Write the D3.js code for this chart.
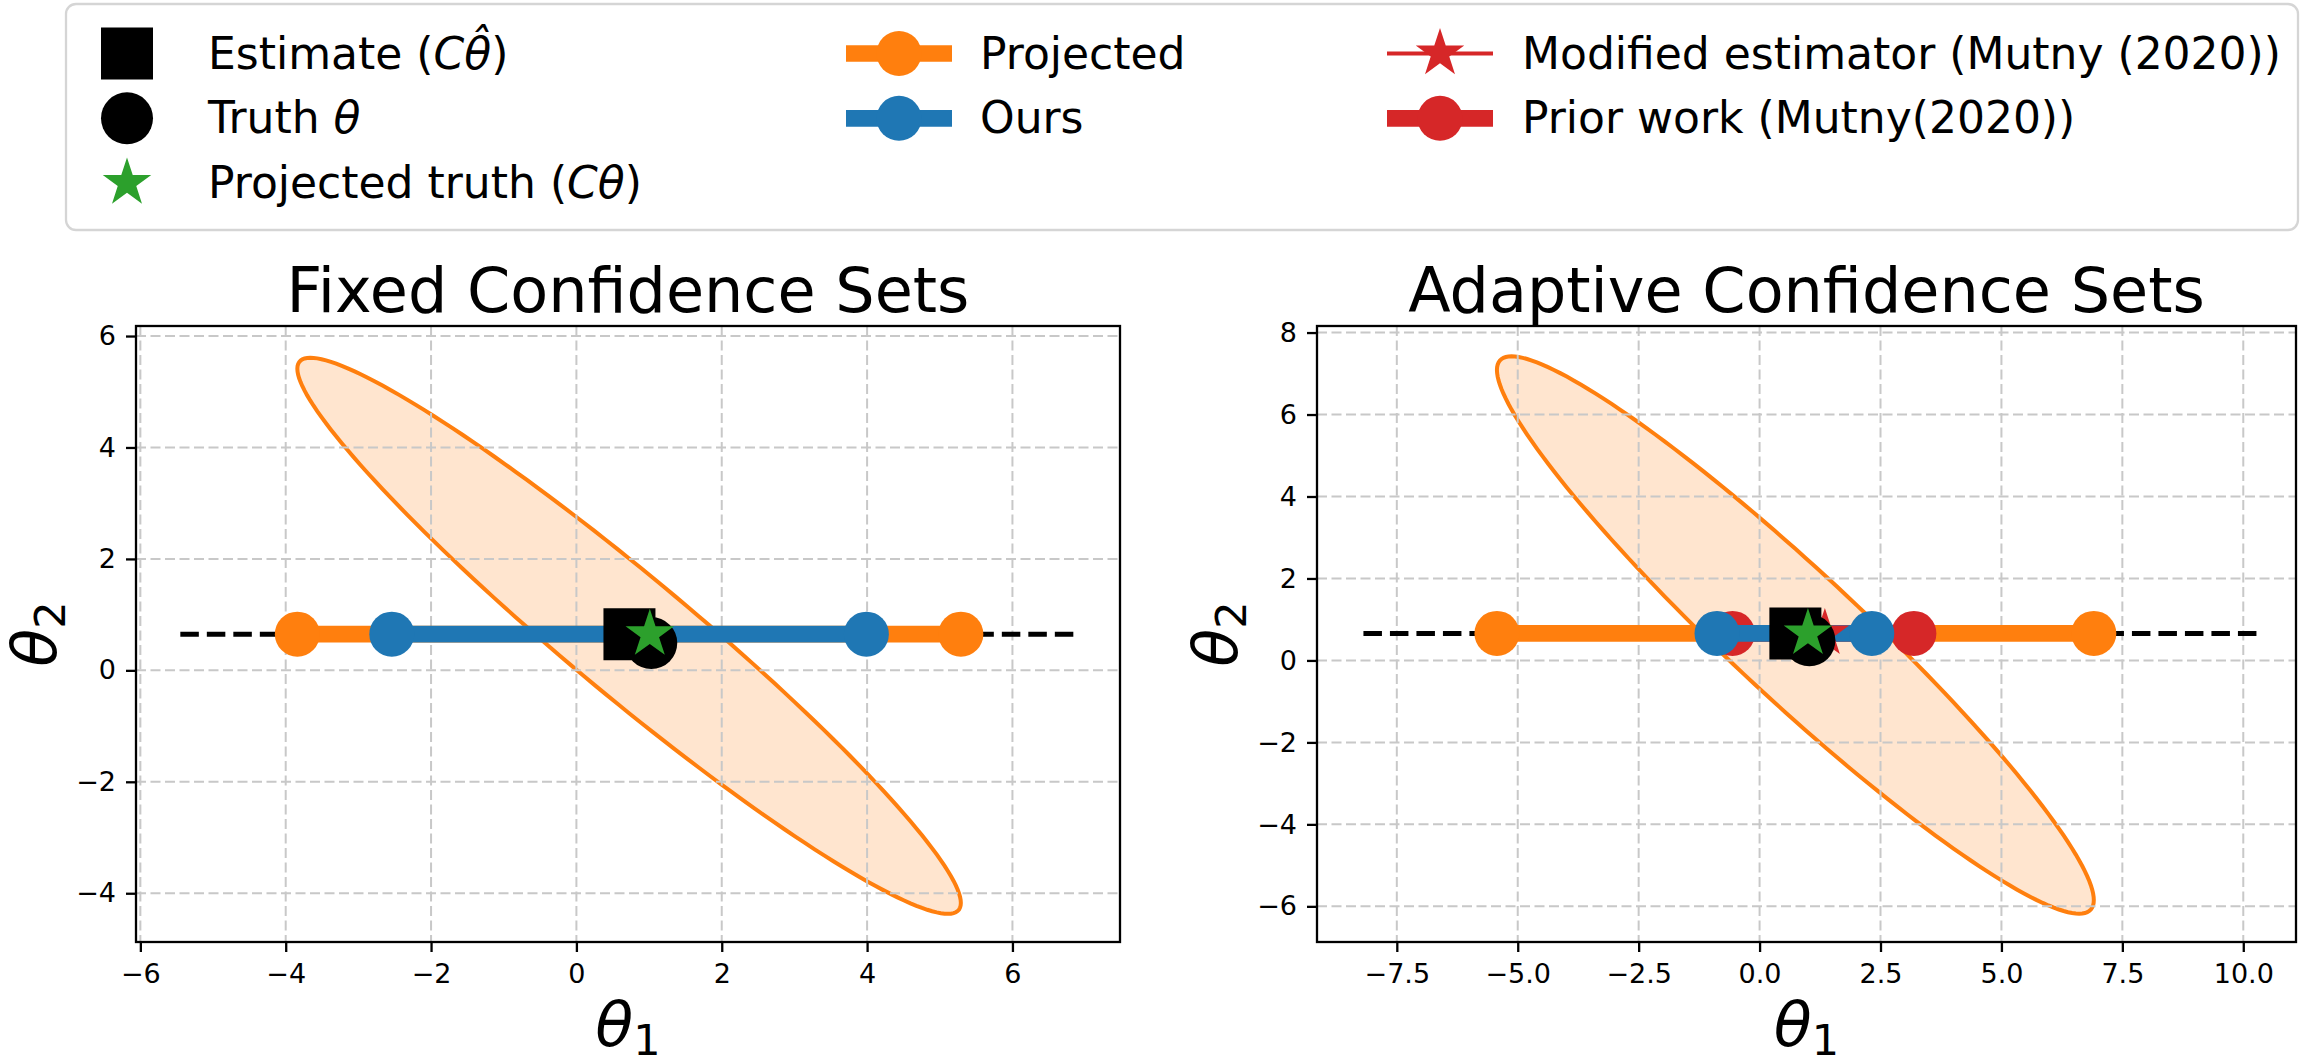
<!DOCTYPE html>
<html>
<head>
<meta charset="utf-8">
<script src="https://cdn.jsdelivr.net/npm/d3@7"></script>
<style>
  body { margin: 0; background: #fff; }
  text { font-family: "DejaVu Sans", sans-serif; fill: #000; }
  .it { font-style: italic; }
</style>
</head>
<body>
<svg id="chart" width="2304" height="1064"></svg>
<script>
////////////
// THE DATA
////////////
var titles = ["Fixed Confidence Sets", "Adaptive Confidence Sets"];
var xTicks = [[-6, -4, -2, 0, 2, 4, 6], [-7.5, -5, -2.5, 0, 2.5, 5, 7.5, 10]];
var yTicks = [[-4, -2, 0, 2, 4, 6], [-6, -4, -2, 0, 2, 4, 6, 8]];
var lineY = [0.65, 0.66];
var dashedEnds = [[-5.45, 6.86], [-8.19, 10.36]];
var projected = [[-3.84, 5.29], [-5.43, 6.91]];
var ours = [[-2.54, 3.99], [-0.88, 2.32]];
var priorWork = [[], [-0.56, 3.19]];
var modified = [[], [1.35]];
var estimateX = [0.73, 0.74];
var truth = [1.03, 0.49];
var projTruthX = [1.01, 1.0];
// confidence ellipse: centre, half extents and correlation
var ellCenter = [[0.725, 0.62], [0.74, 0.62]];
var ellSx = [4.565, 6.17];
var ellSy = [4.99, 6.8];
var ellRho = [-0.9605, -0.951];

// colours
var orange = "#ff7f0e", blue = "#1f77b4", red = "#d62728", green = "#2ca02c";

// layout of the two axes
var plotTop = 326, plotBottom = 942;
var panels = [
  {left: 136, right: 1120, xDom: [-6.06, 7.48], yDom: [-4.875, 6.18], fmt: d3.format("d")},
  {left: 1317, right: 2296, xDom: [-9.15, 11.09], yDom: [-6.87, 8.16], fmt: d3.format(".1f")}
];

var svg = d3.select("#chart");
var defs = svg.append("defs");

// symbol helpers (sizes in px)
var ka = 0.8908130915292852;
function circle(r) { return d3.symbol().type(d3.symbolCircle).size(Math.PI * r * r)(); }
function star(r) { return d3.symbol().type(d3.symbolStar).size(r * r / ka)(); }
function square(s) { return d3.symbol().type(d3.symbolSquare).size(s * s)(); }

panels.forEach(function(p, i) {
  var x = d3.scaleLinear().domain(p.xDom).range([p.left, p.right]);
  var y = d3.scaleLinear().domain(p.yDom).range([plotBottom, plotTop]);

  defs.append("clipPath").attr("id", "clip" + i)
    .append("rect").attr("x", p.left).attr("y", plotTop)
    .attr("width", p.right - p.left).attr("height", plotBottom - plotTop);

  var g = svg.append("g").attr("clip-path", "url(#clip" + i + ")");

  // the ellipse
  var c = ellCenter[i], sx = ellSx[i], sy = ellSy[i], rho = ellRho[i];
  var pts = d3.range(0, 360, 2).map(function(a) {
    var t = a * Math.PI / 180;
    return [c[0] + sx * Math.cos(t), c[1] + sy * (rho * Math.cos(t) + Math.sqrt(1 - rho * rho) * Math.sin(t))];
  });
  g.append("path")
    .attr("d", d3.line().x(function(d) { return x(d[0]); }).y(function(d) { return y(d[1]); }).curve(d3.curveLinearClosed)(pts))
    .attr("fill", orange).attr("fill-opacity", 0.2)
    .attr("stroke", orange).attr("stroke-width", 4);

  // grid
  g.selectAll(".gx").data(xTicks[i]).enter().append("line")
    .attr("x1", function(d) { return x(d); }).attr("x2", function(d) { return x(d); })
    .attr("y1", plotTop).attr("y2", plotBottom)
    .attr("stroke", "#c8c8c8").attr("stroke-width", 2).attr("stroke-dasharray", "10,4.5");
  g.selectAll(".gy").data(yTicks[i]).enter().append("line")
    .attr("y1", function(d) { return y(d); }).attr("y2", function(d) { return y(d); })
    .attr("x1", p.left).attr("x2", p.right)
    .attr("stroke", "#c8c8c8").attr("stroke-width", 2).attr("stroke-dasharray", "10,4.5");

  var ly = y(lineY[i]);

  // dashed black line
  g.append("line")
    .attr("x1", x(dashedEnds[i][0])).attr("x2", x(dashedEnds[i][1]))
    .attr("y1", ly).attr("y2", ly)
    .attr("stroke", "#000").attr("stroke-width", 5).attr("stroke-dasharray", "18.5,8");

  // interval lines with end markers
  function interval(vals, col) {
    if (!vals.length) return;
    g.append("line")
      .attr("x1", x(vals[0])).attr("x2", x(vals[1]))
      .attr("y1", ly).attr("y2", ly)
      .attr("stroke", col).attr("stroke-width", 16.7);
    g.selectAll(null).data(vals).enter().append("path")
      .attr("d", circle(22.5))
      .attr("transform", function(d) { return "translate(" + x(d) + "," + ly + ")"; })
      .attr("fill", col);
  }
  interval(projected[i], orange);
  interval(priorWork[i], red);
  interval(ours[i], blue);

  // modified estimator
  g.selectAll(null).data(modified[i]).enter().append("path")
    .attr("d", star(25.5))
    .attr("transform", function(d) { return "translate(" + x(d) + "," + ly + ")"; })
    .attr("fill", red);

  // estimate, truth, projected truth
  g.append("path").attr("d", square(52))
    .attr("transform", "translate(" + x(estimateX[i]) + "," + ly + ")").attr("fill", "#000");
  g.append("path").attr("d", circle(26))
    .attr("transform", "translate(" + x(truth[0]) + "," + y(truth[1]) + ")").attr("fill", "#000");
  g.append("path").attr("d", star(25.5))
    .attr("transform", "translate(" + x(projTruthX[i]) + "," + ly + ")").attr("fill", green);

  // axes
  var ax = svg.append("g").attr("transform", "translate(0," + plotBottom + ")")
    .call(d3.axisBottom(x).tickValues(xTicks[i]).tickFormat(p.fmt).tickSize(10).tickPadding(12));
  var ay = svg.append("g").attr("transform", "translate(" + p.left + ",0)")
    .call(d3.axisLeft(y).tickValues(yTicks[i]).tickFormat(d3.format("d")).tickSize(10).tickPadding(10));
  [ax, ay].forEach(function(a) {
    a.attr("font-size", 27).attr("font-family", "DejaVu Sans");
    a.select(".domain").remove();
    a.selectAll(".tick line").attr("stroke", "#000").attr("stroke-width", 2.3);
    a.selectAll(".tick text").attr("fill", "#000");
  });

  // spines
  svg.append("rect").attr("x", p.left).attr("y", plotTop)
    .attr("width", p.right - p.left).attr("height", plotBottom - plotTop)
    .attr("fill", "none").attr("stroke", "#000").attr("stroke-width", 2.3);

  // title
  svg.append("text").attr("x", (p.left + p.right) / 2).attr("y", 312)
    .attr("text-anchor", "middle").attr("font-size", 62).text(titles[i]);

  // axis labels
  var xl = svg.append("text").attr("x", (p.left + p.right) / 2).attr("y", 1046)
    .attr("text-anchor", "middle").attr("font-size", 62);
  xl.append("tspan").attr("class", "it").text("θ");
  xl.append("tspan").attr("font-size", 43).attr("dy", 9).text("1");

  var yl = svg.append("text")
    .attr("transform", "translate(" + (p.left - 80) + "," + ((plotTop + plotBottom) / 2) + ") rotate(-90)")
    .attr("text-anchor", "middle").attr("font-size", 62);
  yl.append("tspan").attr("class", "it").text("θ");
  yl.append("tspan").attr("font-size", 43).attr("dy", 9).text("2");
});

//////////////
// THE LEGEND
//////////////
svg.append("rect").attr("x", 66).attr("y", 4).attr("width", 2232).attr("height", 226)
  .attr("rx", 10).attr("fill", "#fff").attr("stroke", "#d5d5d5").attr("stroke-width", 2.3);

var rows = [53.5, 118.3, 183];
var leg = svg.append("g");

// column 1
leg.append("path").attr("d", square(52)).attr("transform", "translate(127," + rows[0] + ")").attr("fill", "#000");
leg.append("path").attr("d", circle(26)).attr("transform", "translate(127," + rows[1] + ")").attr("fill", "#000");
leg.append("path").attr("d", star(25.5)).attr("transform", "translate(127," + rows[2] + ")").attr("fill", green);

// column 2 and 3 line handles
function lineHandle(cx, cy, col, w, sym) {
  leg.append("line").attr("x1", cx - 53).attr("x2", cx + 53).attr("y1", cy).attr("y2", cy)
    .attr("stroke", col).attr("stroke-width", w);
  leg.append("path").attr("d", sym).attr("transform", "translate(" + cx + "," + cy + ")").attr("fill", col);
}
lineHandle(899, rows[0], orange, 16.7, circle(22.5));
lineHandle(899, rows[1], blue, 16.7, circle(22.5));
lineHandle(1440, rows[0], red, 4, star(25.5));
lineHandle(1440, rows[1], red, 16.7, circle(22.5));

function legText(x, y, parts) {
  var t = leg.append("text").attr("x", x).attr("y", y + 15).attr("font-size", 44);
  parts.forEach(function(p) {
    t.append("tspan").attr("class", p[1] ? "it" : null).text(p[0]);
  });
}
legText(208, rows[0], [["Estimate ("], ["Cθ\u0302", 1], [")"]]);
legText(208, rows[1], [["Truth "], ["θ", 1]]);
legText(208, rows[2], [["Projected truth ("], ["Cθ", 1], [")"]]);
legText(980, rows[0], [["Projected"]]);
legText(980, rows[1], [["Ours"]]);
legText(1522, rows[0], [["Modified estimator (Mutny (2020))"]]);
legText(1522, rows[1], [["Prior work (Mutny(2020))"]]);
</script>
</body>
</html>
